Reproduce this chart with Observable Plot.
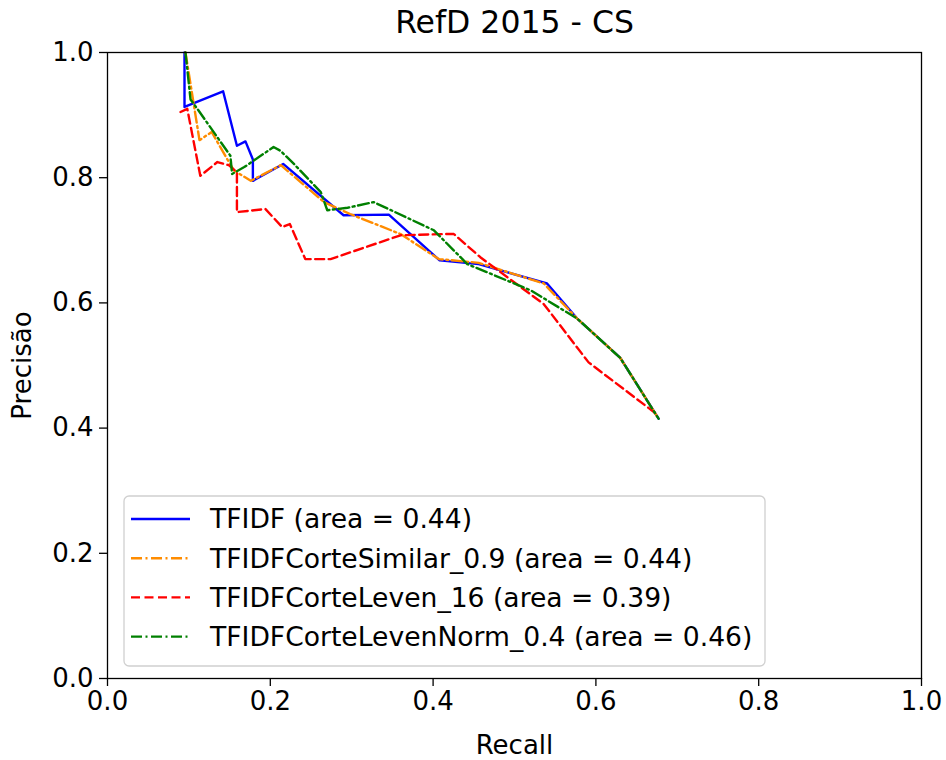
<!DOCTYPE html>
<html>
<head>
<meta charset="utf-8">
<script src="https://cdn.jsdelivr.net/npm/d3@7"></script>
<script src="https://cdn.jsdelivr.net/npm/@observablehq/plot@0.6"></script>
<style>
  body { margin: 0; background: #fff; }
  #wrap { position: relative; width: 946px; height: 760px; }
  svg { font-family: "DejaVu Sans", sans-serif; }
</style>
</head>
<body>
<div id="wrap"></div>
<script>
// ---- data ----
const titleText = "RefD 2015 - CS";
const xLabel = "Recall";
const yLabel = "Precisão";
const tickValues = [0, 0.2, 0.4, 0.6, 0.8, 1.0];

const seriesNames = [
  "TFIDF (area = 0.44)",
  "TFIDFCorteSimilar_0.9 (area = 0.44)",
  "TFIDFCorteLeven_16 (area = 0.39)",
  "TFIDFCorteLevenNorm_0.4 (area = 0.46)"
];

const recallTFIDF = [0.0946, 0.0946, 0.142, 0.159, 0.1695, 0.1786, 0.1786, 0.2158, 0.290, 0.3456, 0.408, 0.456, 0.540, 0.577, 0.630, 0.677];
const precTFIDF   = [1.0,    0.913,  0.938, 0.851, 0.858,  0.829,  0.795,  0.822,  0.740, 0.741,  0.668, 0.662, 0.631, 0.575, 0.512, 0.415];

const recallSimilar = [0.0958, 0.113, 0.128, 0.146, 0.155, 0.176, 0.213, 0.266, 0.298, 0.36, 0.407, 0.456, 0.536, 0.577, 0.630, 0.677];
const precSimilar   = [1.0,    0.86,  0.873, 0.832, 0.812, 0.795, 0.820, 0.761, 0.742, 0.710, 0.670, 0.664, 0.631, 0.575, 0.512, 0.415];

const recallLeven = [0.0897, 0.098, 0.114, 0.135, 0.149, 0.159, 0.159, 0.194, 0.2146, 0.224, 0.243, 0.274, 0.36, 0.415, 0.4255, 0.458, 0.536, 0.591, 0.672];
const precLeven   = [0.905,  0.910, 0.803, 0.825, 0.820, 0.809, 0.745, 0.750, 0.721,  0.726, 0.670, 0.670, 0.708, 0.710, 0.710, 0.673, 0.598, 0.505, 0.425];

const recallLevenNorm = [0.0958, 0.102, 0.106, 0.151, 0.153, 0.168, 0.204, 0.2125, 0.229, 0.262, 0.270, 0.295, 0.327, 0.401, 0.442, 0.520, 0.577, 0.630, 0.677];
const precLevenNorm   = [1.0,    0.925, 0.918, 0.835, 0.806, 0.817, 0.849, 0.843,  0.822, 0.777, 0.748, 0.752, 0.761, 0.716, 0.662, 0.620, 0.575, 0.512, 0.415];

// ---- styles ----
const seriesStyles = [
  {color: "#0000ff", dash: null},
  {color: "#ff8c00", dash: "11,3.5,2,3.5"},
  {color: "#ff0000", dash: "9,4.5"},
  {color: "#008000", dash: "11,3.5,2,3.5"}
];

const seriesData = [
  [recallTFIDF, precTFIDF],
  [recallSimilar, precSimilar],
  [recallLeven, precLeven],
  [recallLevenNorm, precLevenNorm]
].map(([r, p]) => r.map((v, i) => ({recall: v, precision: p[i]})));

const FS = 26;
const LFS = 26.6;
const LW = 2.4;
const fmt = d3.format(".1f");

const lineMarks = seriesData.map((d, i) => Plot.line(d, {
  x: "recall", y: "precision",
  stroke: seriesStyles[i].color,
  strokeWidth: LW,
  strokeDasharray: seriesStyles[i].dash,
  strokeLinejoin: "round"
}));

const chart = Plot.plot({
  width: 946,
  height: 760,
  marginLeft: 107,
  marginRight: 25,
  marginTop: 52,
  marginBottom: 82,
  style: {fontFamily: "DejaVu Sans, sans-serif", fontSize: FS + "px", color: "#000", background: "#fff"},
  x: {domain: [0, 1]},
  y: {domain: [0, 1]},
  marks: [
    ...lineMarks,
    Plot.axisX({ticks: tickValues, tickFormat: fmt, tickSize: 8, tickPadding: 5, label: null, fontSize: FS, strokeWidth: 1.3}),
    Plot.axisY({ticks: tickValues, tickFormat: fmt, tickSize: 8, tickPadding: 6, label: null, fontSize: FS, strokeWidth: 1.3}),
    Plot.frame({stroke: "#000", strokeWidth: 1.3}),
    Plot.text([titleText], {frameAnchor: "top", dy: -30, lineAnchor: "middle", textAnchor: "middle", fontSize: 31.5, fill: "#000"}),
    Plot.text([xLabel], {frameAnchor: "bottom", dy: 67, lineAnchor: "middle", textAnchor: "middle", fontSize: FS, fill: "#000"}),
    Plot.text([yLabel], {frameAnchor: "left", dx: -85, rotate: -90, lineAnchor: "middle", textAnchor: "middle", fontSize: FS, fill: "#000"})
  ]
});

document.getElementById("wrap").appendChild(chart);

// ---- legend (drawn into the chart's svg) ----
const svg = d3.select(chart);
const lg = svg.append("g").attr("class", "legend").attr("text-anchor", "start");
const boxX = 124, boxY = 496, boxW = 641, boxH = 170;
lg.append("rect")
  .attr("x", boxX).attr("y", boxY).attr("width", boxW).attr("height", boxH)
  .attr("rx", 5).attr("ry", 5)
  .attr("fill", "#fff").attr("fill-opacity", 0.8)
  .attr("stroke", "#d0d0d0").attr("stroke-width", 1.3);
const rowY0 = 519, rowStep = 39.2;
seriesNames.forEach((name, i) => {
  const y = rowY0 + i * rowStep;
  lg.append("line")
    .attr("x1", 131).attr("x2", 190).attr("y1", y).attr("y2", y)
    .attr("stroke", seriesStyles[i].color)
    .attr("stroke-width", LW)
    .attr("stroke-dasharray", seriesStyles[i].dash);
  lg.append("text")
    .attr("x", 210).attr("y", y).attr("dy", "0.35em")
    .attr("text-anchor", "start")
    .attr("font-size", LFS).attr("fill", "#000")
    .text(name);
});
</script>
</body>
</html>
